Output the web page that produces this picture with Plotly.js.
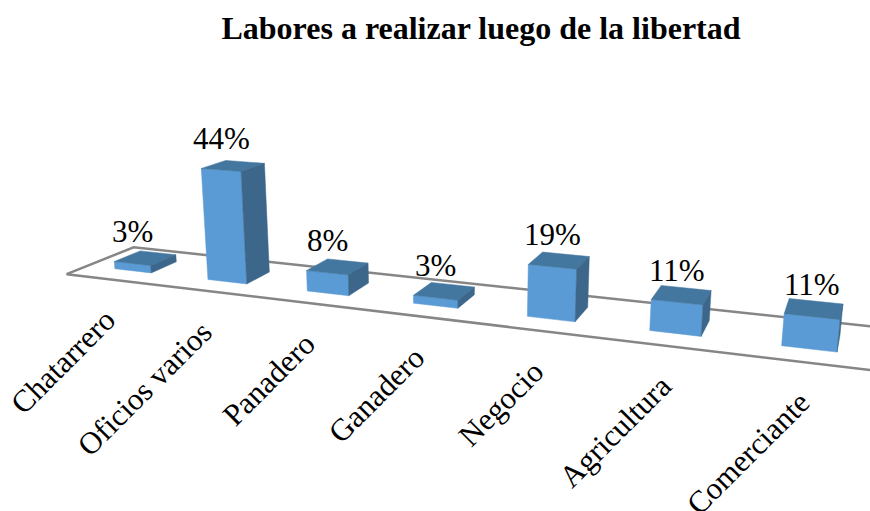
<!DOCTYPE html><html><head><meta charset="utf-8"><script src="https://cdn.plot.ly/plotly-3.0.1.min.js"></script>
<style>html,body{margin:0;padding:0;background:#fff}</style></head><body><div id="c" style="width:870px;height:511px"></div>
<script>
const categories=["Chatarrero","Oficios varios","Panadero","Ganadero","Negocio","Agricultura","Comerciante"];
const values=[3,44,8,3,19,11,11];
const titleText="Labores a realizar luego de la libertad";
// perspective camera of the 3-D chart: category, depth, percent -> picture
const camU=[87.97584,78.53904,-0.2667076,66.61615];
const camV=[1.995309,-5.550239,-2.581698,274.1993];
const camW=[-0.0319542,0.0863945,-0.000583696];
const gapX=0.30068, gapDepth=0.30151, floorEnd=8;
const SERIF="'Liberation Serif','Times New Roman',serif";
function project(X,Y,Z){const w=camW[0]*X+camW[1]*Y+camW[2]*Z+1;
 return [(camU[0]*X+camU[1]*Y+camU[2]*Z+camU[3])/w,(camV[0]*X+camV[1]*Y+camV[2]*Z+camV[3])/w];}
const front={x:[],y:[]},top_={x:[],y:[]},side={x:[],y:[]};
function addFace(t,pts){pts.forEach(p=>{t.x.push(p[0]);t.y.push(p[1]);});t.x.push(null);t.y.push(null);}
values.forEach((v,i)=>{const x0=i+gapX,x1=i+1-gapX,y0=gapDepth,y1=1-gapDepth;const P=project;
 addFace(front,[P(x0,y0,0),P(x1,y0,0),P(x1,y0,v),P(x0,y0,v),P(x0,y0,0)]);
 addFace(top_,[P(x0,y0,v),P(x1,y0,v),P(x1,y1,v),P(x0,y1,v),P(x0,y0,v)]);
 addFace(side,[P(x1,y0,0),P(x1,y1,0),P(x1,y1,v),P(x1,y0,v),P(x1,y0,0)]);});
const floor=[project(floorEnd,0,0),project(0,0,0),project(0,1,0),project(floorEnd,1,0)];
const face=(t,col)=>({type:"scatter",mode:"lines",x:t.x,y:t.y,fill:"toself",fillcolor:col,line:{color:col,width:0.5},hoverinfo:"skip"});
const traces=[{type:"scatter",mode:"lines",x:floor.map(p=>p[0]),y:floor.map(p=>p[1]),line:{color:"#868686",width:2.5},hoverinfo:"skip"},
 face(front,"#5B9BD5"),face(top_,"#44779F"),face(side,"#3C668A")];
const valueLabels=values.map((v,i)=>{const p=project(i+0.5,gapDepth,v);
 return {x:p[0],y:p[1],xanchor:"center",yanchor:"middle",yshift:32,showarrow:false,text:v+"%",font:{family:SERIF,size:31,color:"#000"}};});
const catLabels=categories.map((c,i)=>{const p=project(i+0.5,0,0);
 return {x:p[0],y:p[1],xanchor:"right",yanchor:"top",xshift:13,yshift:-20,textangle:-45,showarrow:false,text:c,font:{family:SERIF,size:31,color:"#000"}};});
Plotly.newPlot("c",traces,{width:870,height:511,margin:{l:0,r:0,t:0,b:0},showlegend:false,paper_bgcolor:"#fff",plot_bgcolor:"#fff",
title:{text:"<b>"+titleText+"</b>",x:481/870,xanchor:"center",y:1-28/511,yanchor:"middle",font:{family:SERIF,size:32,color:"#000"}},
xaxis:{range:[0,870],visible:false,fixedrange:true},yaxis:{range:[511,0],visible:false,fixedrange:true},
annotations:valueLabels.concat(catLabels)},{staticPlot:true});
</script></body></html>
